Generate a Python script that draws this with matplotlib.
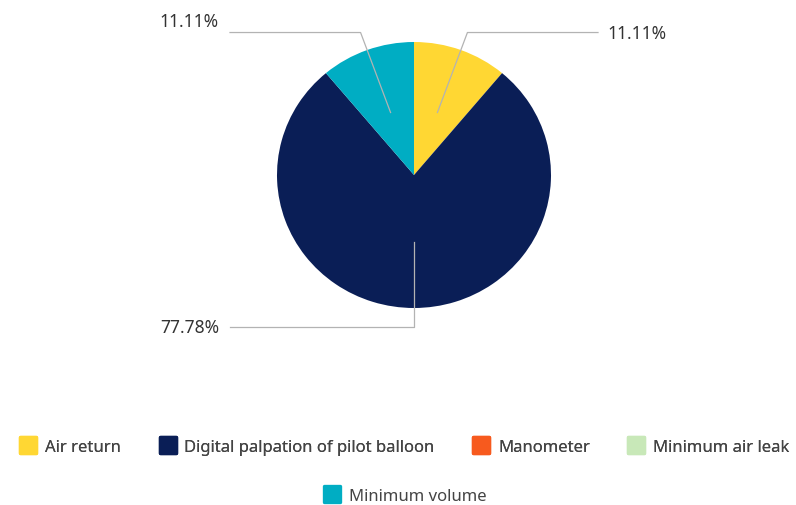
import numpy as np
import matplotlib.pyplot as plt
from matplotlib.lines import Line2D
from matplotlib.markers import MarkerStyle

plt.rcParams['font.family'] = ['Noto Sans', 'DejaVu Sans']

# data
categories = ['Air return', 'Digital palpation of pilot balloon', 'Manometer',
              'Minimum air leak', 'Minimum volume']
counts = [1, 7, 0, 0, 1]
colors = ['#FFD733', '#0A1E56', '#F75A1E', '#C8E8B8', '#00ADC3']

fig = plt.figure(figsize=(7.96, 5.06), dpi=100)
ax = fig.add_axes([0, 0, 1, 1])

# the original pie is a touch flatter than round
sy = 133 / 137
cx, cy, R = 414, (506 - 176) / sy, 137
wedges, _ = ax.pie(counts, colors=colors, startangle=90, counterclock=False,
                   center=(cx, cy), radius=R, wedgeprops=dict(linewidth=0))
ax.set_xlim(0, 796)
ax.set_ylim(0, 506 / sy)
ax.set_aspect('auto')
ax.axis('off')

total = sum(counts)
line_col = '#b3b3b3'
for w, v in zip(wedges, counts):
    if v == 0:
        continue
    th = np.deg2rad((w.theta1 + w.theta2) / 2)
    c, s = np.cos(th), np.sin(th)
    x0, y0 = cx + 0.5 * R * c, cy + 0.5 * R * s
    x1, y1 = cx + 1.14 * R * c, cy + 1.14 * R * s
    right = c > 0.01
    x2 = cx + 184 if right else cx - 184
    ax.plot([x0, x1, x2], [y0, y1, y1], color=line_col, lw=0.9, zorder=3)
    lab = f'{v / total * 100:.2f}%'
    if right:
        ax.text(x2 + 9, y1, lab, ha='left', va='center', fontsize=12.5, color='#333333')
    else:
        dy = 12 / sy if y1 > cy else 0
        ax.text(x2 - 11, y1 + dy, lab, ha='right', va='center', fontsize=12.5, color='#333333')

def handle(col):
    return Line2D([], [], ls='none', marker=MarkerStyle('s', joinstyle='round'),
                  markersize=12, markerfacecolor=col, markeredgecolor=col, mew=2.4)

handles = [handle(c) for c in colors]
kw = dict(frameon=False, fontsize=12, handlelength=1.2, handletextpad=0.4,
          borderpad=0, columnspacing=2.2, labelcolor='#444444', loc='center')
leg1 = fig.legend(handles[:4], categories[:4], ncol=4,
                  bbox_to_anchor=(404 / 796, 58 / 506), **kw)
fig.add_artist(leg1)
fig.legend(handles[4:], categories[4:], ncol=1,
           bbox_to_anchor=(404 / 796, 9 / 506), **kw)

fig.savefig('out.png', dpi=100)
